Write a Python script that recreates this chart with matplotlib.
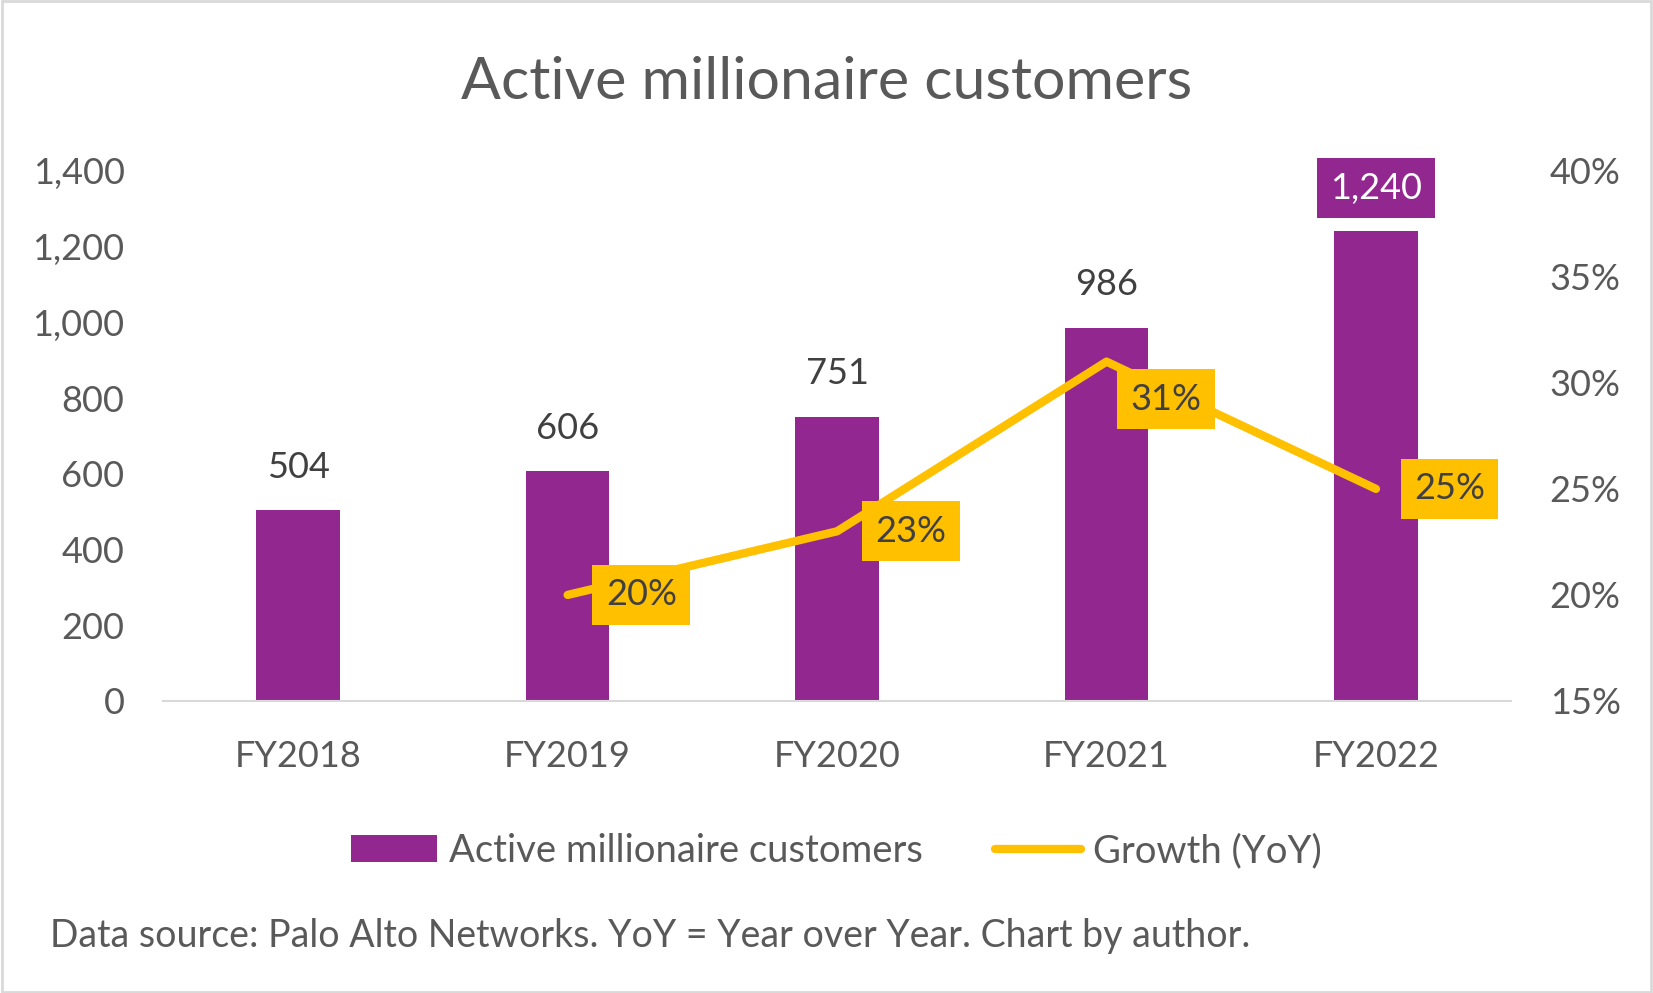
#!/usr/bin/env python3
"""Active millionaire customers (bars) with YoY growth (line)."""

import matplotlib

matplotlib.use("Agg")
import matplotlib.pyplot as plt
from matplotlib.lines import Line2D
from matplotlib.patches import Patch, Rectangle
from matplotlib.ticker import FuncFormatter

years = ["FY2018", "FY2019", "FY2020", "FY2021", "FY2022"]
customers = [504, 606, 751, 986, 1240]
growth_years = ["FY2019", "FY2020", "FY2021", "FY2022"]
growth = [0.20, 0.23, 0.31, 0.25]

PURPLE = "#92278F"
YELLOW = "#FFC000"
GREY_TEXT = "#595959"
DARK_TEXT = "#404040"
FONT = "Lato"
FS = 26
FS_TEXT = 27.5

plt.rcParams["font.family"] = [FONT, "DejaVu Sans"]

fig = plt.figure(figsize=(16.53, 9.93), dpi=100)
ax = fig.add_axes([0.0989, 0.2941, 0.8150, 0.5339])
ax2 = ax.twinx()

x = list(range(len(years)))
ax.bar(x, customers, width=0.31, color=PURPLE, zorder=2)
ax.set_xlim(-0.5, len(years) - 0.5)
ax.set_ylim(0, 1400)
ax.set_yticks(range(0, 1401, 200))
ax.yaxis.set_major_formatter(FuncFormatter(lambda v, _: f"{int(v):,}"))
ax.set_xticks(x)
ax.set_xticklabels(years)

for spine in ["top", "left", "right"]:
    ax.spines[spine].set_visible(False)
    ax2.spines[spine].set_visible(False)
ax.spines["bottom"].set_color("#D9D9D9")
ax.spines["bottom"].set_linewidth(1.5)
ax2.spines["bottom"].set_visible(False)

ax.tick_params(axis="y", length=0, pad=28, labelsize=FS, labelcolor=GREY_TEXT)
ax.tick_params(axis="x", length=0, pad=28, labelsize=FS, labelcolor=GREY_TEXT)

# bar value labels
for i, v in enumerate(customers):
    if i == len(customers) - 1:
        ax.annotate(f"{v:,}", (i, v), xytext=(0, 31), textcoords="offset points",
                    ha="center", va="center", fontsize=FS, color="white",
                    bbox=dict(boxstyle="square,pad=0.37", facecolor=PURPLE, edgecolor="none"),
                    annotation_clip=False)
    else:
        ax.annotate(f"{v:,}", (i, v), xytext=(0, 31), textcoords="offset points",
                    ha="center", va="center", fontsize=FS, color=DARK_TEXT)

# growth line on secondary axis
gx = [years.index(y) for y in growth_years]
ax2.plot(gx, growth, color=YELLOW, linewidth=6, solid_capstyle="round",
         solid_joinstyle="round", zorder=3)
ax2.set_ylim(0.15, 0.40)
ax2.set_yticks([0.15, 0.20, 0.25, 0.30, 0.35, 0.40])
ax2.yaxis.set_major_formatter(FuncFormatter(lambda v, _: f"{v * 100:.0f}%"))
ax2.tick_params(axis="y", length=0, pad=28, labelsize=FS, labelcolor=GREY_TEXT)

offsets = [(53, 0), (53, 0), (43, -27), (53, 0)]
for xi, g, off in zip(gx, growth, offsets):
    ax2.annotate(f"{g * 100:.0f}%", (xi, g), xytext=off, textcoords="offset points",
                 ha="center", va="center", fontsize=FS, color=DARK_TEXT, zorder=5,
                 bbox=dict(boxstyle="square,pad=0.37", facecolor=YELLOW, edgecolor="none"),
                 annotation_clip=False)

fig.text(0.5, 0.917, "Active millionaire customers", ha="center", va="center",
         fontsize=42.5, color=GREY_TEXT)

handles = [
    Patch(facecolor=PURPLE, edgecolor="none", label="Active millionaire customers"),
    Line2D([0], [0], color=YELLOW, linewidth=6, solid_capstyle="round", label="Growth (YoY)"),
]
leg = fig.legend(handles=handles, loc="center", bbox_to_anchor=(0.506, 0.143), ncol=2,
                 frameon=False, fontsize=FS_TEXT, handlelength=2.25, handletextpad=0.3,
                 columnspacing=1.9, labelcolor=GREY_TEXT)

fig.text(0.030, 0.057, "Data source: Palo Alto Networks. YoY = Year over Year. Chart by author.",
         ha="left", va="center", fontsize=FS_TEXT - 0.5, color=GREY_TEXT)

fig.patches.append(Rectangle((0.001, 0.001), 0.998, 0.998, transform=fig.transFigure,
                             fill=False, edgecolor="#D9D9D9", linewidth=2))

fig.savefig("out.png", dpi=100)
